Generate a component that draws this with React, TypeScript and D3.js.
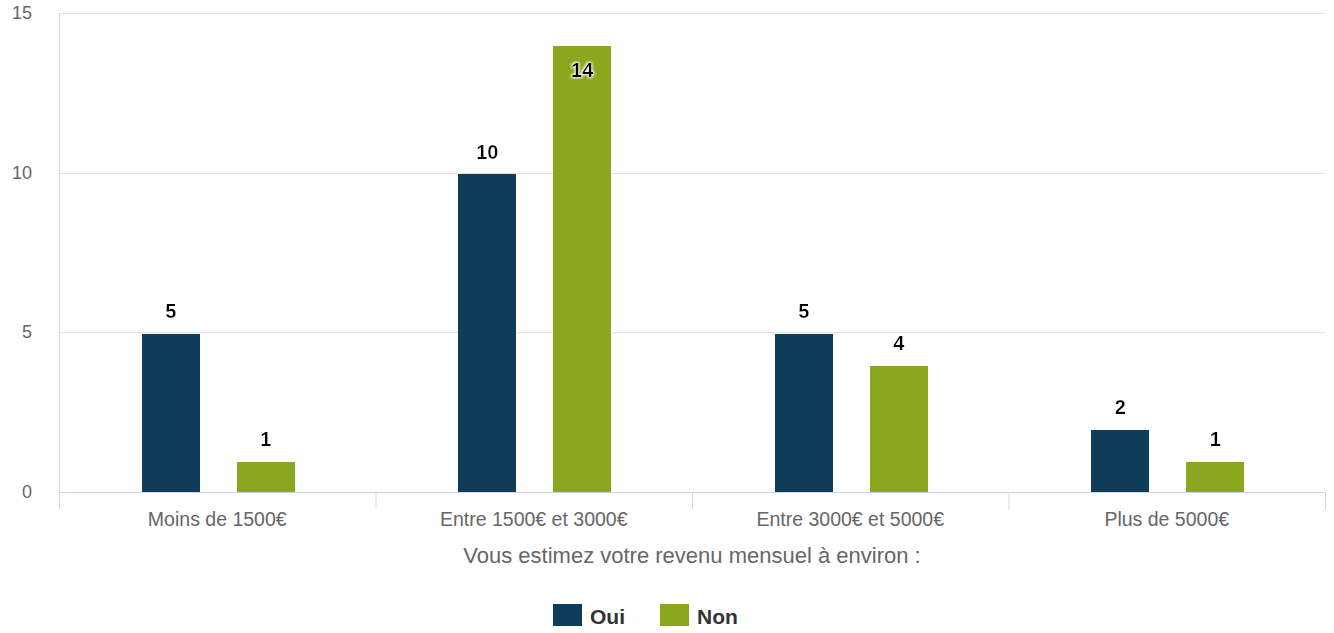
import React from "react";
import * as d3 from "d3";

const categories = ["Moins de 1500€", "Entre 1500€ et 3000€", "Entre 3000€ et 5000€", "Plus de 5000€"];
const seriesNames = ["Oui", "Non"];
const ouiValues = [5, 10, 5, 2];
const nonValues = [1, 14, 4, 1];
const yTicks = [0, 5, 10, 15];
const colors = ["#0f3c59", "#8aa71e"];
const xTitle = "Vous estimez votre revenu mensuel à environ :";

const W = 1334, H = 633;
const left = 59, right = 1325, top = 13, bottom = 492;
const FONT = "'Liberation Sans', Arial, Helvetica, sans-serif";

export default function App() {
  const x = d3.scaleBand<string>().domain(categories).range([left, right]).paddingInner(0).paddingOuter(0);
  const y = d3.scaleLinear().domain([0, 15]).range([bottom, top]);
  const bw = x.bandwidth();
  const groupPad = 0.2 * bw;
  const inner = d3.scaleBand<string>().domain(seriesNames).range([groupPad, bw - groupPad]).paddingInner(0.39).paddingOuter(0.195);
  const series = [ouiValues, nonValues];
  const xTickPos = categories.map((c) => x(c)!).concat([right]);

  return (
    <svg width={W} height={H} style={{ position: "absolute", left: 0, top: 0 }} fontFamily={FONT}>
      <defs>
        <filter id="halo" x="-30%" y="-30%" width="160%" height="160%">
          <feMorphology in="SourceAlpha" operator="dilate" radius="1.2" result="d" />
          <feGaussianBlur in="d" stdDeviation="0.8" result="b" />
          <feFlood floodColor="#ffffff" />
          <feComposite in2="b" operator="in" result="w" />
          <feMerge>
            <feMergeNode in="w" />
            <feMergeNode in="SourceGraphic" />
          </feMerge>
        </filter>
      </defs>
      {yTicks.filter((t) => t !== 0).map((t) => (
        <line key={t} x1={left} x2={right} y1={Math.round(y(t)) + 0.5} y2={Math.round(y(t)) + 0.5} stroke="#e0e0e0" strokeWidth={1} />
      ))}
      <line x1={left + 0.5} x2={left + 0.5} y1={top} y2={bottom} stroke="#ccd6eb" strokeWidth={1} />
      {yTicks.map((t) => (
        <text key={t} x={32} y={y(t) + 6} textAnchor="end" fontSize={18} fill="#666666">{t}</text>
      ))}
      {series.map((vals, si) =>
        vals.map((v, ci) => {
          const bx = Math.round(x(categories[ci])! + inner(seriesNames[si])! + 1);
          const by = Math.round(y(v) + 1.5);
          return (
            <rect key={`${si}-${ci}`} x={bx} y={by} width={Math.round(inner.bandwidth())} height={bottom - by} fill={colors[si]} />
          );
        })
      )}
      <line x1={left} x2={right} y1={bottom + 0.5} y2={bottom + 0.5} stroke="#ccd6eb" strokeWidth={1} />
      {xTickPos.map((p, i) => (
        <line key={i} x1={p + 0.5} x2={p + 0.5} y1={bottom} y2={bottom + 17} stroke="#ccd6eb" strokeWidth={1} />
      ))}
      {categories.map((c) => (
        <text key={c} x={x(c)! + bw / 2} y={526} textAnchor="middle" fontSize={19.5} fill="#666666">{c}</text>
      ))}
      {series.map((vals, si) =>
        vals.map((v, ci) => {
          const cx = x(categories[ci])! + inner(seriesNames[si])! + inner.bandwidth() / 2 + 1;
          let ly = y(v) - 14;
          if (ly < top + 30) ly = y(v) + 32;
          return (
            <text key={`l${si}-${ci}`} x={cx} y={ly} textAnchor="middle" fontSize={20} fontWeight="bold" fill="#000" filter="url(#halo)">{v}</text>
          );
        })
      )}
      <text x={(left + right) / 2} y={563} textAnchor="middle" fontSize={22} fill="#666666">{xTitle}</text>
      {seriesNames.map((s, i) => {
        const lx = [553, 660][i];
        return (
          <g key={s}>
            <rect x={lx} y={604} width={29} height={22} fill={colors[i]} />
            <text x={lx + 37} y={624} fontSize={21} fontWeight="bold" fill="#333333">{s}</text>
          </g>
        );
      })}
    </svg>
  );
}
